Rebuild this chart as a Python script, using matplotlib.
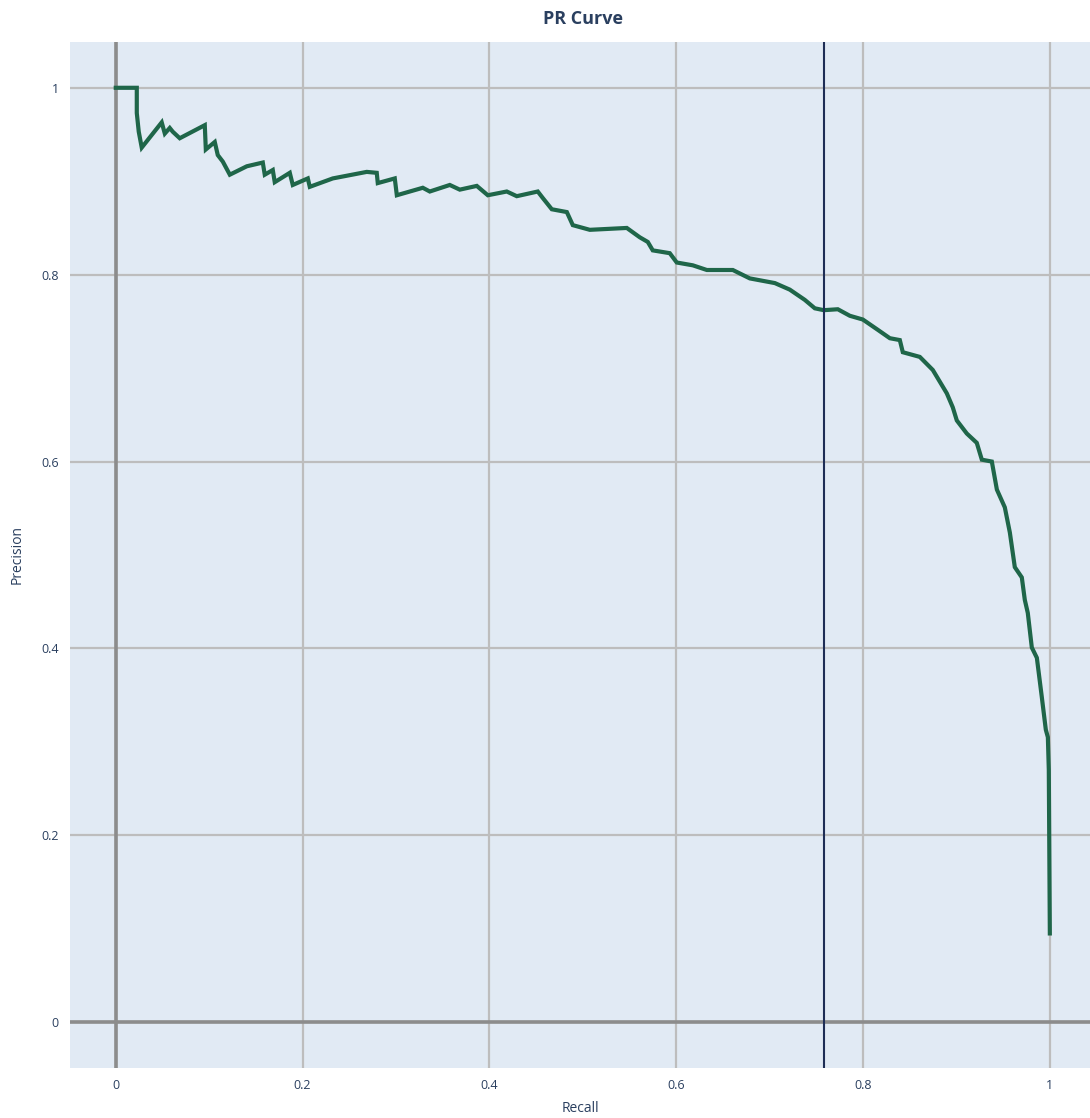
import matplotlib
matplotlib.use("Agg")
import matplotlib.pyplot as plt

recall = [0.000, 0.0225, 0.0225, 0.0246, 0.0278, 0.0492, 0.0525, 0.0578, 0.0610, 0.0685,
          0.0953, 0.0964, 0.1060, 0.1092, 0.1146, 0.1221, 0.1403, 0.1574, 0.1595, 0.1681,
          0.1702, 0.1863, 0.1895, 0.2056, 0.2077, 0.2323, 0.2687, 0.2794, 0.2805, 0.2987,
          0.3009, 0.3287, 0.3362, 0.3576, 0.3683, 0.3865, 0.3983, 0.4186, 0.4293, 0.4518,
          0.4572, 0.4668, 0.4829, 0.4893, 0.5075, 0.5471, 0.5610, 0.5696, 0.5749, 0.5931,
          0.6006, 0.6178, 0.6328, 0.6606, 0.6788, 0.7056, 0.7216, 0.7377, 0.7484, 0.7580,
          0.7730, 0.7859, 0.7998, 0.8158, 0.8287, 0.8394, 0.8426, 0.8608, 0.8747, 0.8897,
          0.8961, 0.9004, 0.9111, 0.9218, 0.9272, 0.9379, 0.9433, 0.9518, 0.9572, 0.9625,
          0.9700, 0.9732, 0.9764, 0.9807, 0.9861, 0.9914, 0.9957, 0.9979, 0.9989, 1.0000]
precision = [1.000, 1.000, 0.973, 0.953, 0.936, 0.963, 0.951, 0.957, 0.953, 0.946,
             0.960, 0.934, 0.942, 0.928, 0.921, 0.907, 0.916, 0.920, 0.907, 0.912,
             0.899, 0.909, 0.896, 0.903, 0.894, 0.903, 0.910, 0.909, 0.898, 0.903,
             0.885, 0.893, 0.889, 0.896, 0.891, 0.895, 0.885, 0.889, 0.884, 0.889,
             0.882, 0.870, 0.867, 0.853, 0.848, 0.850, 0.840, 0.835, 0.826, 0.823,
             0.813, 0.810, 0.805, 0.805, 0.796, 0.791, 0.784, 0.773, 0.764, 0.762,
             0.763, 0.756, 0.752, 0.741, 0.732, 0.730, 0.717, 0.712, 0.698, 0.673,
             0.658, 0.644, 0.630, 0.620, 0.602, 0.600, 0.570, 0.551, 0.524, 0.487,
             0.476, 0.452, 0.438, 0.401, 0.390, 0.348, 0.313, 0.305, 0.270, 0.095]
threshold_recall = 0.758
ticks = [0, 0.2, 0.4, 0.6, 0.8, 1]
tick_labels = ["0", "0.2", "0.4", "0.6", "0.8", "1"]

plt.rcParams['font.family'] = ['Open Sans', 'DejaVu Sans']
fig = plt.figure(figsize=(10.9, 11.18), dpi=100)
ax = fig.add_axes([70/1090, 1 - 1068/1118, 1 - 70/1090, (1068 - 42)/1118])
ax.set_facecolor('#E1EAF4')
ax.set_xlim(-0.049, 1.043)
ax.set_ylim(-0.049, 1.049)
for s in ax.spines.values():
    s.set_visible(False)

ax.set_xticks(ticks)
ax.set_xticklabels(tick_labels)
ax.set_yticks(ticks)
ax.set_yticklabels(tick_labels)
ax.tick_params(length=0, colors='#2a3f5f', labelsize=9, pad=8)
ax.grid(True, color='#BDBDBD', linewidth=1.6, zorder=0)
ax.set_axisbelow(True)
ax.axhline(0, color='#8C8C8C', linewidth=2.6, zorder=1)
ax.axvline(0, color='#8C8C8C', linewidth=2.6, zorder=1)

ax.plot(recall, precision, color='#1F6649', linewidth=3.0, zorder=3, solid_joinstyle='miter')
ax.axvline(threshold_recall, color='#1E2D55', linewidth=1.5, zorder=4)

fig.text(580/1090, 1 - 1108/1118, 'Recall', fontsize=10, color='#2a3f5f',
         ha='center', va='center')
fig.text(17/1090, 1 - 555/1118, 'Precision', fontsize=10, color='#2a3f5f',
         ha='center', va='center', rotation=90)
fig.text(583/1090, 1 - 19/1118, 'PR Curve', fontsize=13, fontweight='bold',
         color='#2a3f5f', ha='center', va='center')

fig.savefig('out.png', dpi=100)
